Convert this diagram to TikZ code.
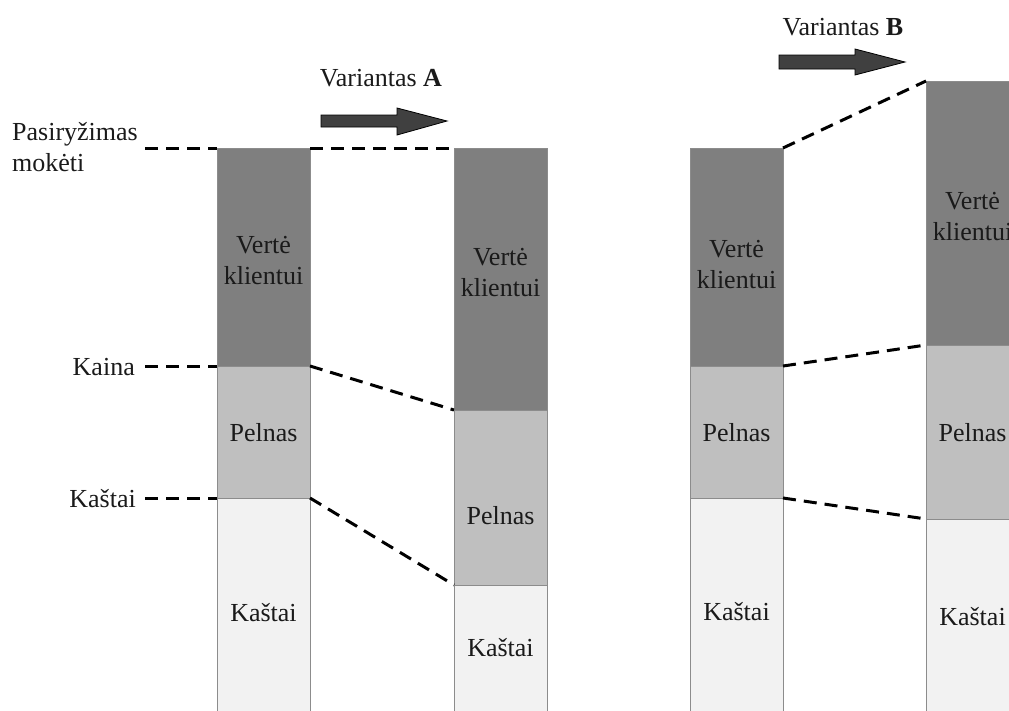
\documentclass[tikz,border=0pt]{standalone}
\usepackage{fontspec}
\setmainfont{Liberation Serif}
\definecolor{segdark}{HTML}{7F7F7F}
\definecolor{segmid}{HTML}{BFBFBF}
\definecolor{seglight}{HTML}{F2F2F2}
\definecolor{segline}{HTML}{8C8C8C}
\definecolor{arrowfill}{HTML}{404040}
\definecolor{txt}{HTML}{1A1A1A}
\begin{document}
\begin{tikzpicture}[x=1pt,y=-1pt,
  seg/.style={draw=segline, line width=1pt, inner sep=0pt, outer sep=0pt,
    minimum width=93pt, anchor=north west},
  lbl/.style={text=txt, font=\fontsize{26}{31}\selectfont, inner sep=0pt, align=center},
  guide/.style={line width=3pt, dash pattern=on 13pt off 8pt},
  bigarrow/.style={fill=arrowfill, draw=black, line width=0.8pt, line join=miter}]
\useasboundingbox (0,0) rectangle (1009,710);
\clip (0,0) rectangle (1009,710);
% bar 1
\node[seg, fill=segdark, minimum height=218pt] (v1) at (217,148) {};
\node[seg, fill=segmid, minimum height=132pt] (p1) at (217,366) {};
\node[seg, fill=seglight, minimum height=216pt] (k1) at (217,498) {};
% bar 2
\node[seg, fill=segdark, minimum height=262pt] (v2) at (454,148) {};
\node[seg, fill=segmid, minimum height=175pt] (p2) at (454,410) {};
\node[seg, fill=seglight, minimum height=129pt] (k2) at (454,585) {};
% bar 3
\node[seg, fill=segdark, minimum height=218pt] (v3) at (690,148) {};
\node[seg, fill=segmid, minimum height=132pt] (p3) at (690,366) {};
\node[seg, fill=seglight, minimum height=216pt] (k3) at (690,498) {};
% bar 4
\node[seg, fill=segdark, minimum height=264pt] (v4) at (926,81) {};
\node[seg, fill=segmid, minimum height=174pt] (p4) at (926,345) {};
\node[seg, fill=seglight, minimum height=195pt] (k4) at (926,519) {};
% texts in bars
\node[lbl] (tv1) at (263.5,261) {Vertė\\klientui};
\node[lbl] (tp1) at (263.5,433) {Pelnas};
\node[lbl] (tk1) at (263.5,613) {Kaštai};
\node[lbl] (tv2) at (500.5,273) {Vertė\\klientui};
\node[lbl] (tp2) at (500.5,516) {Pelnas};
\node[lbl] (tk2) at (500.5,648) {Kaštai};
\node[lbl] (tv3) at (736.5,265) {Vertė\\klientui};
\node[lbl] (tp3) at (736.5,433) {Pelnas};
\node[lbl] (tk3) at (736.5,612) {Kaštai};
\node[lbl] (tv4) at (972.5,217) {Vertė\\klientui};
\node[lbl] (tp4) at (972.5,433) {Pelnas};
\node[lbl] (tk4) at (972.5,617) {Kaštai};
% left labels
\node[lbl, align=left, anchor=west] (lw) at (12,147) {Pasiryžimas\\mokėti};
\node[lbl, anchor=east] (lp) at (135,367) {Kaina};
\node[lbl, anchor=east] (lc) at (136,499) {Kaštai};
\coordinate (gw) at (145,148);
\coordinate (gp) at (145,366);
\coordinate (gc) at (145,498);
\draw[guide] (gw) -- (v1.north west);
\draw[guide] (gp) -- (p1.north west);
\draw[guide] (gc) -- (k1.north west);
% connectors A
\draw[guide] (v1.north east) -- (v2.north west);
\draw[guide] (p1.north east) -- (p2.north west);
\draw[guide] (k1.north east) -- (k2.north west);
% connectors B
\draw[guide] (v3.north east) -- (v4.north west);
\draw[guide] (p3.north east) -- (p4.north west);
\draw[guide] (k3.north east) -- (k4.north west);
% variant labels and arrows
\node[lbl] (va) at (381,78) {Variantas \textbf{A}};
\node[lbl] (vb) at (843,27) {Variantas \textbf{B}};
\draw[bigarrow] (321,115) -- (397,115) -- (397,108) -- (447,121) -- (397,135) -- (397,127) -- (321,127) -- cycle;
\draw[bigarrow] (779,55) -- (855,55) -- (855,49) -- (905,62) -- (855,75) -- (855,69) -- (779,69) -- cycle;
\end{tikzpicture}
\end{document}
